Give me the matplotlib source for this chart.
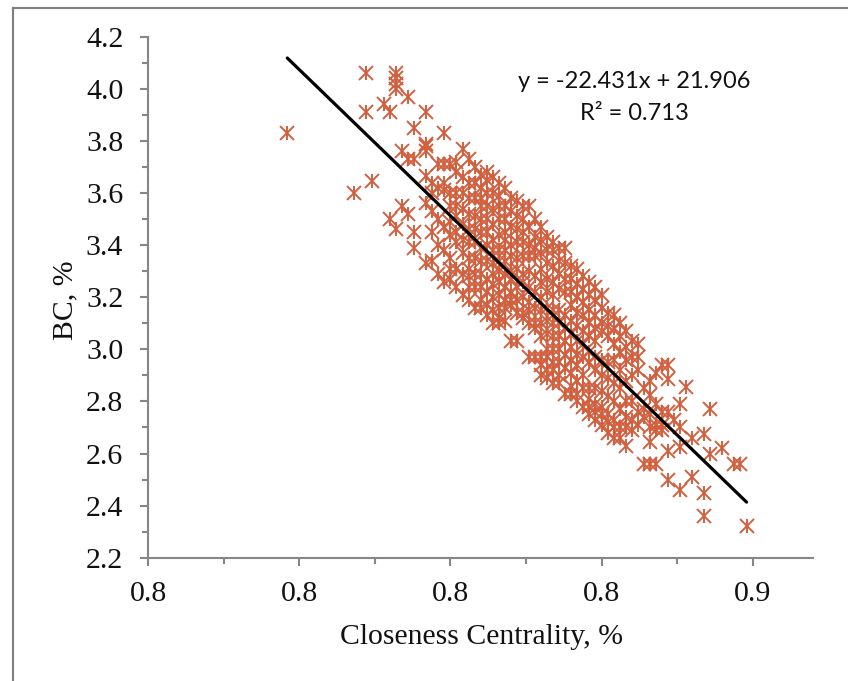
import matplotlib
matplotlib.use("Agg")
import matplotlib.pyplot as plt
from matplotlib.lines import Line2D

# Tick values and (rounded) tick labels as printed in the chart
x_ticks = [0.77, 0.795, 0.82, 0.845, 0.87]
x_tick_labels = ["0.8", "0.8", "0.8", "0.8", "0.9"]
x_minor = [0.7825, 0.8075, 0.8325, 0.8575]
y_ticks = [2.2, 2.4, 2.6, 2.8, 3.0, 3.2, 3.4, 3.6, 3.8, 4.0, 4.2]
y_tick_labels = ["2.2", "2.4", "2.6", "2.8", "3.0", "3.2", "3.4", "3.6", "3.8", "4.0", "4.2"]
y_minor = [2.3, 2.5, 2.7, 2.9, 3.1, 3.3, 3.5, 3.7, 3.9, 4.1]

# Closeness centrality columns and the BC values read in each column
closeness = [0.793, 0.804, 0.806, 0.807, 0.809, 0.810, 0.811, 0.812, 0.813, 0.814,
             0.816, 0.817, 0.818, 0.819, 0.820, 0.821, 0.822, 0.823, 0.824, 0.825,
             0.826, 0.827, 0.828, 0.829, 0.830, 0.831, 0.832, 0.833, 0.834, 0.835,
             0.836, 0.837, 0.838, 0.839, 0.840, 0.841, 0.842, 0.843, 0.844, 0.845,
             0.846, 0.847, 0.848, 0.849, 0.850, 0.851, 0.852, 0.853, 0.854, 0.855,
             0.856, 0.857, 0.858, 0.859, 0.860, 0.862, 0.863, 0.865, 0.867, 0.868, 0.869]
bc_by_column = [
    [3.83],
    [3.60],
    [4.06, 3.91],
    [3.645],
    [3.94],
    [3.91, 3.50],
    [4.06, 4.04, 4.02, 4.00, 3.46],
    [3.76, 3.55],
    [3.97, 3.73, 3.52],
    [3.85, 3.73, 3.45, 3.39],
    [3.91, 3.79, 3.78, 3.76, 3.665, 3.56, 3.33],
    [3.64, 3.60, 3.53, 3.45, 3.34],
    [3.71, 3.62, 3.50, 3.40, 3.29],
    [3.83, 3.71, 3.64, 3.61, 3.47, 3.38, 3.26],
    [3.71, 3.60, 3.55, 3.49, 3.44, 3.35, 3.31, 3.27],
    [3.72, 3.68, 3.60, 3.55, 3.51, 3.45, 3.41, 3.31, 3.24],
    [3.77, 3.66, 3.60, 3.54, 3.48, 3.42, 3.37, 3.29, 3.21],
    [3.73, 3.64, 3.58, 3.52, 3.46, 3.41, 3.35, 3.31, 3.28, 3.24, 3.19],
    [3.70, 3.64, 3.58, 3.51, 3.46, 3.41, 3.35, 3.29, 3.24, 3.16],
    [3.67, 3.62, 3.58, 3.55, 3.50, 3.45, 3.39, 3.34, 3.29, 3.24, 3.19, 3.16],
    [3.68, 3.65, 3.60, 3.55, 3.50, 3.45, 3.40, 3.34, 3.27, 3.22, 3.17, 3.13],
    [3.66, 3.60, 3.54, 3.48, 3.42, 3.38, 3.33, 3.29, 3.25, 3.20, 3.15, 3.10],
    [3.64, 3.59, 3.55, 3.50, 3.44, 3.38, 3.34, 3.30, 3.26, 3.21, 3.16, 3.12, 3.10],
    [3.62, 3.55, 3.50, 3.45, 3.42, 3.38, 3.34, 3.29, 3.24, 3.19, 3.16, 3.11],
    [3.58, 3.53, 3.47, 3.40, 3.36, 3.30, 3.27, 3.22, 3.19, 3.17, 3.03],
    [3.57, 3.51, 3.46, 3.41, 3.35, 3.31, 3.24, 3.19, 3.14, 3.03],
    [3.55, 3.50, 3.45, 3.41, 3.36, 3.29, 3.26, 3.20, 3.14, 3.12],
    [3.55, 3.47, 3.40, 3.36, 3.30, 3.24, 3.18, 3.15, 3.10, 2.97],
    [3.50, 3.43, 3.39, 3.36, 3.28, 3.22, 3.16, 3.10, 3.08, 2.97],
    [3.47, 3.42, 3.37, 3.31, 3.26, 3.20, 3.15, 3.10, 3.05, 2.97, 2.94, 2.90],
    [3.43, 3.38, 3.33, 3.27, 3.22, 3.16, 3.11, 3.06, 3.00, 2.97, 2.92, 2.89],
    [3.41, 3.38, 3.32, 3.26, 3.21, 3.15, 3.10, 3.05, 3.00, 2.95, 2.92, 2.87],
    [3.39, 3.34, 3.29, 3.23, 3.15, 3.10, 3.05, 3.00, 2.95, 2.90, 2.87],
    [3.39, 3.33, 3.27, 3.22, 3.13, 3.08, 3.03, 2.98, 2.93, 2.83],
    [3.32, 3.27, 3.22, 3.17, 3.11, 3.06, 3.01, 2.96, 2.91, 2.86, 2.83],
    [3.31, 3.25, 3.20, 3.14, 3.09, 3.03, 2.98, 2.94, 2.88, 2.83, 2.80],
    [3.28, 3.23, 3.18, 3.13, 3.07, 3.02, 2.97, 2.90, 2.85, 2.78],
    [3.26, 3.21, 3.15, 3.10, 3.05, 2.99, 2.95, 2.85, 2.81, 2.78, 2.75],
    [3.24, 3.19, 3.13, 3.08, 3.03, 2.97, 2.92, 2.85, 2.79, 2.76, 2.73],
    [3.21, 3.16, 3.10, 3.07, 2.96, 2.90, 2.84, 2.78, 2.75, 2.71],
    [3.14, 3.09, 3.05, 2.95, 2.89, 2.82, 2.75, 2.72, 2.68],
    [3.13, 3.08, 3.02, 2.96, 2.87, 2.80, 2.73, 2.70, 2.66],
    [3.10, 3.05, 2.99, 2.92, 2.85, 2.77, 2.70, 2.66],
    [3.07, 3.01, 2.96, 2.88, 2.80, 2.74, 2.70, 2.63],
    [3.03, 2.97, 2.90, 2.80, 2.73, 2.69],
    [3.02, 2.97, 2.92, 2.76, 2.71],
    [2.85, 2.77, 2.74, 2.56],
    [2.88, 2.825, 2.75, 2.70, 2.645, 2.56],
    [2.91, 2.79, 2.71, 2.69, 2.56],
    [2.94, 2.76, 2.71, 2.69],
    [2.94, 2.885, 2.76, 2.61, 2.50],
    [2.73],
    [2.79, 2.70, 2.625, 2.46],
    [2.855],
    [2.66, 2.51],
    [2.675, 2.45, 2.36],
    [2.77, 2.60],
    [2.62],
    [2.56],
    [2.56],
    [2.32],
]

fit_slope = -22.431
fit_intercept = 21.906
fit_x = [0.793, 0.869]

W, H = 848, 681
fig = plt.figure(figsize=(W / 100, H / 100), dpi=100)
fig.patch.set_facecolor("white")

# outer frame: left and top edges only
fig.add_artist(Line2D([12.5 / W, 12.5 / W], [0, 1 - 7.5 / H], color="#7f7f7f", lw=1.5))
fig.add_artist(Line2D([12.5 / W, 1], [1 - 7.5 / H, 1 - 7.5 / H], color="#7f7f7f", lw=1.5))

ax = fig.add_axes([148.3 / W, 1 - 557.7 / H, (813 - 148.3) / W, (557.7 - 36.7) / H])
ax.set_xlim(0.77, 0.88)
ax.set_ylim(2.2, 4.2)
for s in ("top", "right"):
    ax.spines[s].set_visible(False)
for s in ("left", "bottom"):
    ax.spines[s].set_color("#868686")
    ax.spines[s].set_linewidth(1.5)

serif = "Liberation Serif"
ax.set_xticks(x_ticks, x_tick_labels, fontfamily=serif, fontsize=21.5, color="#111111")
ax.set_yticks(y_ticks, y_tick_labels, fontfamily=serif, fontsize=21.5, color="#111111")
ax.set_xticks(x_minor, minor=True)
ax.set_yticks(y_minor, minor=True)
ax.tick_params(axis="x", which="major", length=6, width=1.5, color="#868686", pad=11)
ax.tick_params(axis="y", which="major", length=6, width=1.5, color="#868686", pad=12)
ax.tick_params(axis="both", which="minor", length=4.5, width=1.5, color="#868686")

xs, ys = [], []
for cx, col in zip(closeness, bc_by_column):
    for v in col:
        xs.append(cx)
        ys.append(v)

mc = "#D2603F"
for m, size in (("x", 10), ("|", 10.5)):
    ax.plot(xs, ys, ls="none", marker=m, ms=size, mew=1.4, color=mc, zorder=2, clip_on=False)

ax.plot(fit_x, [fit_slope * v + fit_intercept for v in fit_x], color="black", lw=2.3, zorder=3,
        solid_capstyle="round")

fig.text(481 / W, 1 - 637 / H, "Closeness Centrality, %", family=serif, fontsize=21.4, color="#111111",
         ha="center", va="center")
fig.text(65 / W, 1 - 300 / H, "BC, %", family=serif, fontsize=21.4, color="#111111",
         ha="center", va="center", rotation=90)

fig.text(634 / W, 1 - 82 / H, "y = -22.431x + 21.906", family="Lato", fontsize=17, color="#111111",
         ha="center", va="center")
fig.text(634 / W, 1 - 113 / H, "R² = 0.713", family="Lato", fontsize=17, color="#111111",
         ha="center", va="center")

fig.savefig("out.png", dpi=100)
